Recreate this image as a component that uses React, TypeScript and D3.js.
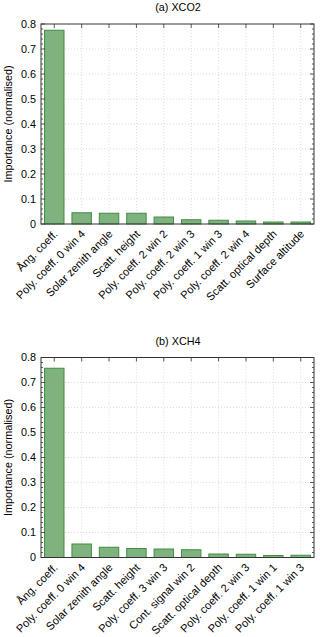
import * as d3 from 'd3'

// (a) XCO2 feature importances
const labelsCO2 = [
  'Ång. coeff.',
  'Poly. coeff. 0 win 4',
  'Solar zenith angle',
  'Scatt. height',
  'Poly. coeff. 2 win 2',
  'Poly. coeff. 2 win 3',
  'Poly. coeff. 1 win 3',
  'Poly. coeff. 2 win 4',
  'Scatt. optical depth',
  'Surface altitude',
]
const valuesCO2 = [0.775, 0.045, 0.043, 0.043, 0.028, 0.017, 0.015, 0.012, 0.008, 0.008]

// (b) XCH4 feature importances
const labelsCH4 = [
  'Ång. coeff.',
  'Poly. coeff. 0 win 4',
  'Solar zenith angle',
  'Scatt. height',
  'Poly. coeff. 3 win 3',
  'Cont. signal win 2',
  'Scatt. optical depth',
  'Poly. coeff. 2 win 3',
  'Poly. coeff. 1 win 1',
  'Poly. coeff. 1 win 3',
]
const valuesCH4 = [0.757, 0.054, 0.041, 0.036, 0.034, 0.031, 0.014, 0.013, 0.008, 0.009]

const yTicks = [0, 0.1, 0.2, 0.3, 0.4, 0.5, 0.6, 0.7, 0.8]

const FONT = "'Liberation Sans', Arial, Helvetica, sans-serif"
const FILL = '#7fb27f'
const STROKE = '#3f8f3f'
const AXIS = '#333'

function Panel({ title, labels, values, top }: { title: string; labels: string[]; values: number[]; top: number }) {
  const left = 41
  const right = 314
  const h = 200
  const x = d3.scaleBand().domain(labels).range([left, right]).paddingInner(0.29).paddingOuter(0.13)
  const y = d3.scaleLinear().domain([0, 0.8]).range([top + h, top])
  const minor = d3.range(0, 0.8001, 0.02)
  const bw = x.bandwidth()

  return (
    <g fontFamily={FONT}>
      <text x={178} y={top - 13} textAnchor="middle" fontSize={10.8} fill="#000">{title}</text>

      {/* grid */}
      {yTicks.slice(1, -1).map((t) => (
        <line key={'gy' + t} x1={left} x2={right} y1={y(t)} y2={y(t)} stroke="#ccc" strokeWidth={0.7} strokeDasharray="1,2" />
      ))}
      {labels.map((l) => (
        <line key={'gx' + l} x1={x(l)! + bw / 2} x2={x(l)! + bw / 2} y1={top} y2={top + h} stroke="#ccc" strokeWidth={0.7} strokeDasharray="1,2" />
      ))}

      {/* bars */}
      {labels.map((l, i) => (
        <rect key={'b' + l} x={x(l)!} y={y(values[i])} width={bw} height={top + h - y(values[i])}
          fill={FILL} stroke={STROKE} strokeWidth={1} />
      ))}

      {/* minor and major ticks on both sides */}
      {minor.map((t) => {
        const major = Math.abs(t * 10 - Math.round(t * 10)) < 1e-6
        const len = major ? 4 : 2
        return (
          <g key={'t' + t}>
            <line x1={left} x2={left + len} y1={y(t)} y2={y(t)} stroke={AXIS} strokeWidth={0.8} />
            <line x1={right} x2={right - len} y1={y(t)} y2={y(t)} stroke={AXIS} strokeWidth={0.8} />
          </g>
        )
      })}
      {labels.map((l) => (
        <line key={'xt' + l} x1={x(l)! + bw / 2} x2={x(l)! + bw / 2} y1={top} y2={top + 4} stroke={AXIS} strokeWidth={0.8} />
      ))}

      {/* frame */}
      <rect x={left} y={top} width={right - left} height={h} fill="none" stroke={AXIS} strokeWidth={1} />

      {/* y tick labels */}
      {yTicks.map((t) => (
        <text key={'yl' + t} x={left - 5} y={y(t)} dy="0.35em" textAnchor="end" fontSize={10.8} fill="#000">
          {t === 0 ? '0' : t.toFixed(1)}
        </text>
      ))}

      {/* x tick labels */}
      {labels.map((l) => {
        const cx = x(l)! + bw / 2 + 1.5
        const cy = top + h + 8
        return (
          <text key={'xl' + l} transform={`translate(${cx},${cy}) rotate(-45)`} textAnchor="end" dy="0.35em"
            fontSize={11.1} fill="#000">{l}</text>
        )
      })}

      <text transform={`translate(12,${top + h / 2}) rotate(-90)`} textAnchor="middle" fontSize={10.8} fill="#000">
        Importance (normalised)
      </text>
    </g>
  )
}

export default function App() {
  return (
    <svg width={320} height={637} style={{ position: 'absolute', left: 0, top: 0, background: '#fff' }}>
      <rect width={320} height={637} fill="#fff" />
      <Panel title="(a) XCO2" labels={labelsCO2} values={valuesCO2} top={24} />
      <Panel title="(b) XCH4" labels={labelsCH4} values={valuesCH4} top={357.5} />
    </svg>
  )
}
